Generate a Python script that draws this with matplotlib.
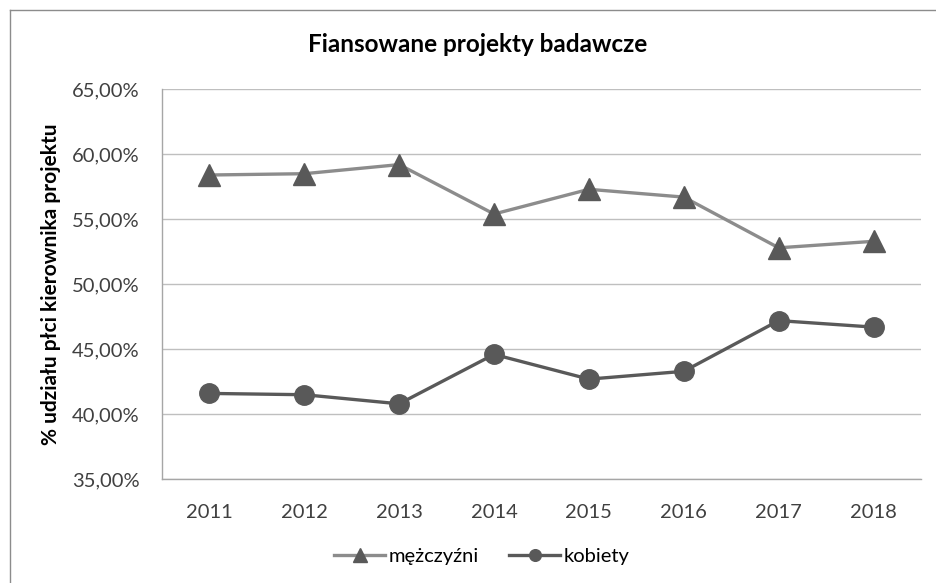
import matplotlib.pyplot as plt
from matplotlib.lines import Line2D
from matplotlib.ticker import FuncFormatter

plt.rcParams['font.family'] = ['Lato', 'DejaVu Sans']

years = ['2011', '2012', '2013', '2014', '2015', '2016', '2017', '2018']
mezczyzni = [58.4, 58.5, 59.2, 55.4, 57.3, 56.7, 52.8, 53.3]
kobiety = [41.6, 41.5, 40.8, 44.6, 42.7, 43.3, 47.2, 46.7]

fig = plt.figure(figsize=(9.36, 5.83), dpi=100)
ax = fig.add_axes([0.173, 0.178, 0.811, 0.669])

x = range(len(years))
ax.plot(x, mezczyzni, color='#8c8c8c', lw=2.4, marker='^', markersize=16,
        markerfacecolor='#595959', markeredgecolor='#595959', label='mężczyźni', zorder=3)
ax.plot(x, kobiety, color='#595959', lw=2.4, marker='o', markersize=14,
        markerfacecolor='#595959', markeredgecolor='#595959', label='kobiety', zorder=3)

ax.set_xlim(-0.5, len(years) - 0.5)
ax.set_ylim(35, 65)
ax.set_yticks(range(35, 66, 5))
ax.yaxis.set_major_formatter(FuncFormatter(lambda v, p: ('%.2f%%' % v).replace('.', ',')))
ax.set_xticks(list(x))
ax.set_xticklabels(years)
ax.tick_params(axis='both', length=0, labelsize=14.5, colors='#404040')
ax.tick_params(axis='x', pad=18)
ax.tick_params(axis='y', pad=16)

ax.grid(axis='y', color='#bfbfbf', lw=1)
ax.set_axisbelow(True)
for s in ['top', 'right']:
    ax.spines[s].set_visible(False)
for s in ['left', 'bottom']:
    ax.spines[s].set_color('#a6a6a6')
    ax.spines[s].set_linewidth(1)

ax.set_ylabel('% udziału płci kierownika projektu', fontsize=15, fontweight='bold', labelpad=8)
fig.text(0.51, 0.923, 'Fiansowane projekty badawcze', ha='center', va='center',
         fontsize=17.5, fontweight='bold')

fig.legend(loc='center', bbox_to_anchor=(0.515, 0.045), ncol=2, frameon=False,
           fontsize=14.5, handlelength=2.5, markerscale=0.6, columnspacing=1.5, handletextpad=0.2)

# chart border (only top and left visible in the reference)
fig.add_artist(Line2D([10 / 936, 10 / 936], [0, 1 - 10 / 583], transform=fig.transFigure,
                      color='#8c8c8c', lw=1))
fig.add_artist(Line2D([10 / 936, 1], [1 - 10 / 583, 1 - 10 / 583], transform=fig.transFigure,
                      color='#8c8c8c', lw=1))

fig.savefig('out.png', dpi=100)
